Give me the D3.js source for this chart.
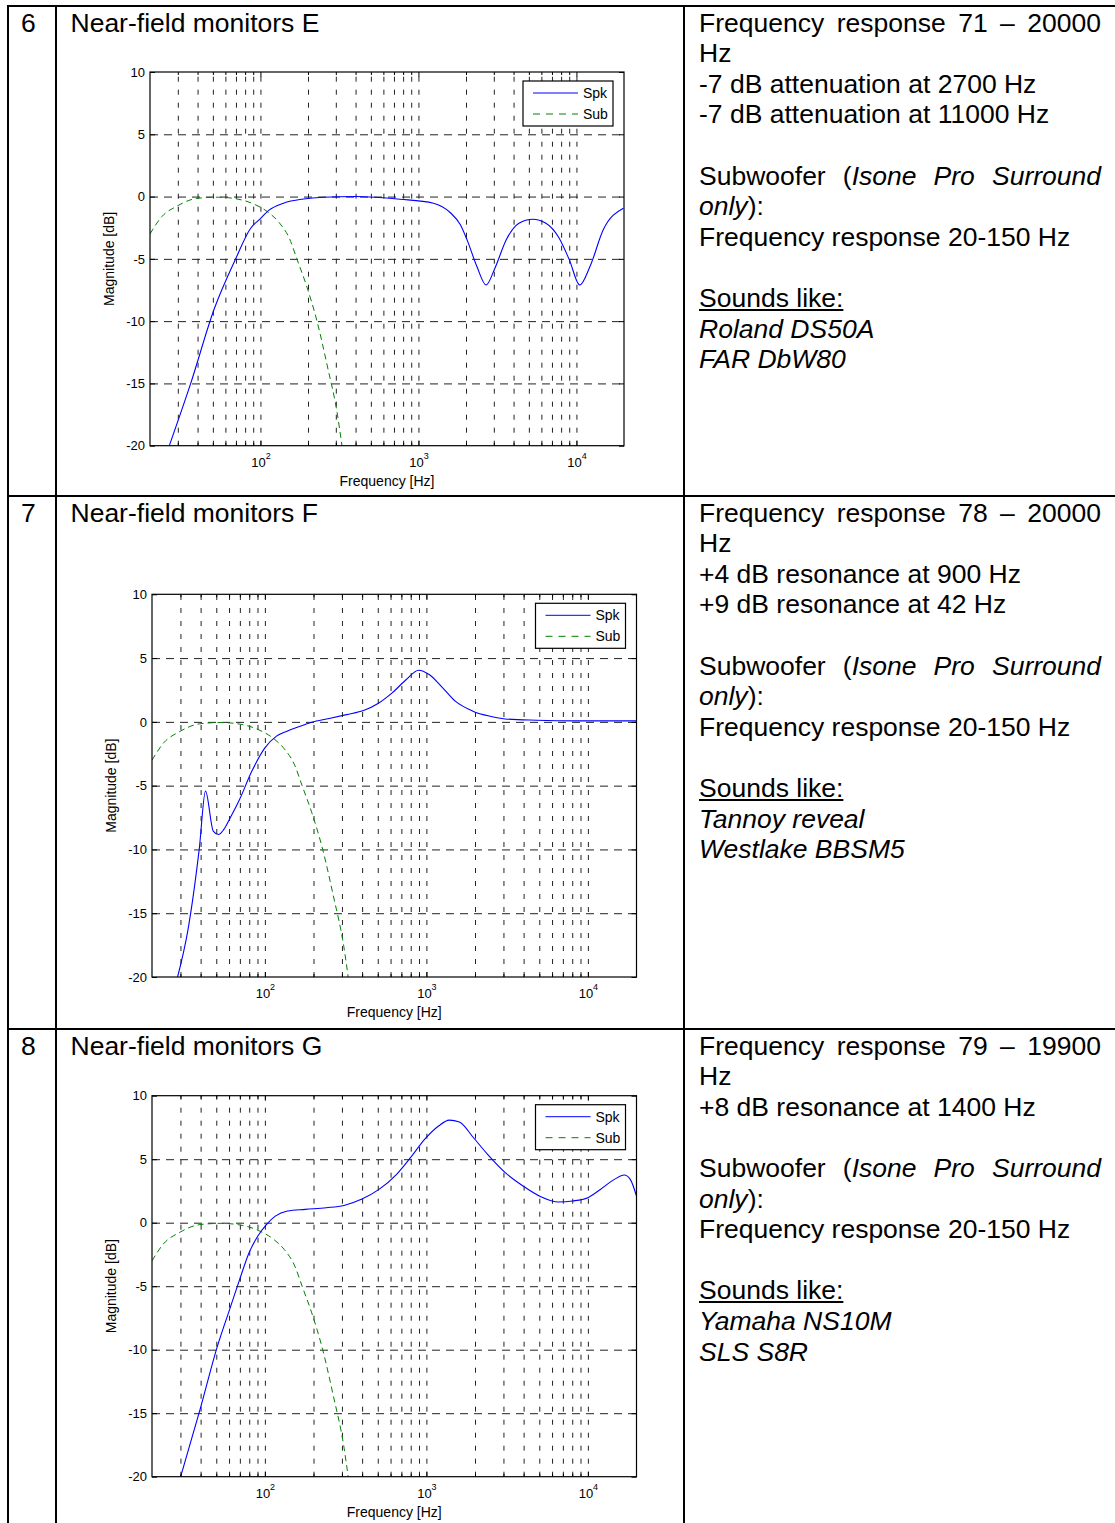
<!DOCTYPE html>
<html>
<head>
<meta charset="utf-8">
<title>Near-field monitors E, F, G</title>
<script src="https://cdn.jsdelivr.net/npm/d3@7"></script>
<style>
    body {
        margin: 0;
        width: 1115px;
        height: 1523px;
        overflow: hidden;
        position: relative;
        background: #fff;
        font-family: "Liberation Sans", Arial, sans-serif;
    }
    #page { position: absolute; left: 0; top: 0; }
    .info-line {
        position: absolute;
        left: 699px;
        width: 402px;
        font-size: 26.5px;
        line-height: 30.6px;
        white-space: nowrap;
        color: #000;
    }
    .info-line.just { white-space: normal; text-align: justify; text-align-last: justify; }
    .cell-text { font-size: 26.5px; fill: #000; }
    .axis text { font-family: "Liberation Sans", Arial, sans-serif; font-size: 13px; fill: #000; }
    .axis path { display: none; }
    .axis line { stroke: #000; }
    .grid path { display: none; }
    .grid line { stroke: #222; stroke-width: 1; }
    .axis-title { font-size: 14px; fill: #000; }
    .legend text { font-size: 14px; fill: #000; }
</style>
</head>
<body>
<svg id="page" width="1115" height="1523"></svg>
<script>
// ---- data ----
const rowNumbers = ['6', '7', '8'];
const rowTitles = ['Near-field monitors E', 'Near-field monitors F', 'Near-field monitors G'];

const yTicks = [-20, -15, -10, -5, 0, 5, 10];
const xMajorTicks = [100, 1000, 10000];
const seriesNames = ['Spk', 'Sub'];

// subwoofer response (same in every chart)
const subHz = [20, 23.8, 29.3, 39.6, 53.5, 68, 90.8, 113, 131.6, 153, 170, 195, 228, 265, 308, 328];
const subDb = [-3.0, -1.6, -0.8, -0.15, -0.05, -0.15, -0.6, -1.3, -2.1, -3.4, -5, -7.1, -10, -13.6, -17.6, -20];

// monitors E
const spkEHz = [26.5, 36.2, 50.9, 69.7, 86.5, 100, 112.8, 140, 187, 250, 400, 764, 1245, 1587, 1843, 2031,
    2345, 2680, 3048, 3591, 4329, 5280, 6410, 7780, 9020, 10500, 12180, 14780, 19800];
const spkEDb = [-20, -15, -9.05, -5, -2.56, -1.77, -1.11, -0.53, -0.19, -0.05, 0, -0.21, -0.53, -1.28, -2.27, -3.48,
    -5.62, -7.1, -5.75, -3.48, -2.14, -1.82, -2.14, -3.34, -5.08, -7.1, -5.62, -2.67, -0.93];

// monitors F
const spkFHz = [28.8, 33.4, 39.2, 42.9, 47.9, 51.6, 55.7, 61.5, 69.7, 83.1, 100, 118, 137, 159, 195, 250, 320,
    412, 502, 614, 751, 895, 1040, 1237, 1510, 1938, 2480, 3070, 4800, 8300, 20000];
const spkFDb = [-20, -16.3, -10, -5.43, -8.56, -8.83, -8.43, -7.44, -6.08, -3.86, -2.04, -1.12, -0.73, -0.42, -0.03,
    0.26, 0.57, 0.91, 1.44, 2.27, 3.32, 4.05, 3.71, 2.79, 1.62, 0.84, 0.44, 0.23, 0.13, 0.08, 0.08];

// monitors G
const spkGHz = [30.1, 39.7, 50.9, 60.6, 70.4, 79.8, 90.5, 102.5, 116, 138, 178, 240, 309, 396, 509, 654, 797, 975,
    1190, 1385, 1600, 1958, 2393, 3080, 3967, 5110, 6580, 8050, 10000, 11950, 14600, 16800, 18300, 20000];
const spkGDb = [-20, -14.7, -9.7, -6.8, -4.33, -2.36, -1.05, -0.13, 0.52, 0.92, 1.05, 1.18, 1.36, 1.84, 2.62, 3.81,
    5.12, 6.56, 7.61, 8.08, 7.93, 6.69, 5.38, 3.94, 2.89, 2.05, 1.63, 1.71, 1.97, 2.62, 3.41, 3.75, 3.41, 2.1];

// right column text, [html, justified]
const infoE = [
    ['Frequency response 71 – 20000', true], ['Hz'],
    ['-7 dB attenuation at 2700 Hz'], ['-7 dB attenuation at 11000 Hz'], [''],
    ['Subwoofer (<i>Isone Pro Surround</i>', true], ['<i>only</i>):'], ['Frequency response 20-150 Hz'], [''],
    ['<u>Sounds like:</u>'], ['<i>Roland DS50A</i>'], ['<i>FAR DbW80</i>']
];
const infoF = [
    ['Frequency response 78 – 20000', true], ['Hz'],
    ['+4 dB resonance at 900 Hz'], ['+9 dB resonance at 42 Hz'], [''],
    ['Subwoofer (<i>Isone Pro Surround</i>', true], ['<i>only</i>):'], ['Frequency response 20-150 Hz'], [''],
    ['<u>Sounds like:</u>'], ['<i>Tannoy reveal</i>'], ['<i>Westlake BBSM5</i>']
];
const infoG = [
    ['Frequency response 79 – 19900', true], ['Hz'],
    ['+8 dB resonance at 1400 Hz'], [''],
    ['Subwoofer (<i>Isone Pro Surround</i>', true], ['<i>only</i>):'], ['Frequency response 20-150 Hz'], [''],
    ['<u>Sounds like:</u>'], ['<i>Yamaha NS10M</i>'], ['<i>SLS S8R</i>']
];


class ResponseChart {

    constructor(_config, _spk, _sub) {
        this.config = {
            svg: _config.svg,
            id: _config.id,
            left: _config.left,
            right: _config.right,
            top: _config.top,
            bottom: _config.bottom
        }
        this.spk = _spk;
        this.sub = _sub;
        this.initVis();
    }

    initVis() {
        let vis = this;

        vis.width = vis.config.right - vis.config.left;
        vis.height = vis.config.bottom - vis.config.top;

        vis.xScale = d3.scaleLog()
            .domain([20, 20000])
            .range([0, vis.width]);

        vis.yScale = d3.scaleLinear()
            .domain([-20, 10])
            .range([vis.height, 0]);

        vis.chart = vis.config.svg.append('g')
            .attr('transform', `translate(${vis.config.left},${vis.config.top})`);

        vis.chart.append('clipPath')
            .attr('id', 'clip-' + vis.config.id)
            .append('rect')
            .attr('width', vis.width)
            .attr('height', vis.height);

        vis.renderVis();
    }

    renderVis() {
        let vis = this;

        // minor + major log grid, skipping the box edges
        let gridHz = vis.xScale.ticks().filter(d => d > 20 && d < 20000);
        let gridDb = yTicks.filter(d => d > -20 && d < 10);

        vis.chart.append('g')
            .attr('class', 'grid')
            .attr('transform', `translate(0,${vis.height})`)
            .call(d3.axisBottom(vis.xScale).tickValues(gridHz).tickSize(-vis.height).tickFormat(''))
            .selectAll('line')
            .attr('stroke-dasharray', '5,8');

        vis.chart.append('g')
            .attr('class', 'grid')
            .call(d3.axisLeft(vis.yScale).tickValues(gridDb).tickSize(-vis.width).tickFormat(''))
            .selectAll('line')
            .attr('stroke-dasharray', '8,6');

        // curves
        let line = d3.line()
            .x(d => vis.xScale(d[0]))
            .y(d => vis.yScale(d[1]))
            .curve(d3.curveMonotoneX);

        let curves = vis.chart.append('g')
            .attr('clip-path', `url(#clip-${vis.config.id})`);

        curves.append('path')
            .datum(vis.sub)
            .attr('fill', 'none')
            .attr('stroke', '#008000')
            .attr('stroke-width', 1)
            .attr('stroke-dasharray', '6,4')
            .attr('d', line);

        curves.append('path')
            .datum(vis.spk)
            .attr('fill', 'none')
            .attr('stroke', '#0000ff')
            .attr('stroke-width', 1.1)
            .attr('d', line);

        // inner ticks on all four sides
        let minorHz = gridHz.filter(d => xMajorTicks.indexOf(d) < 0);
        [['axisBottom', vis.height], ['axisTop', 0]].forEach(([fn, y]) => {
            vis.chart.append('g')
                .attr('class', 'axis')
                .attr('transform', `translate(0,${y})`)
                .call(d3[fn](vis.xScale).tickValues(minorHz).tickSizeInner(-3).tickSizeOuter(0).tickFormat(''));
        });
        vis.chart.append('g')
            .attr('class', 'axis')
            .call(d3.axisTop(vis.xScale).tickValues(xMajorTicks).tickSizeInner(-5).tickSizeOuter(0).tickFormat(''));
        vis.chart.append('g')
            .attr('class', 'axis')
            .attr('transform', `translate(${vis.width},0)`)
            .call(d3.axisRight(vis.yScale).tickValues(yTicks).tickSizeInner(-5).tickSizeOuter(0).tickFormat(''));

        // plain hyphen minus like the MATLAB labels
        vis.chart.append('g')
            .attr('class', 'axis')
            .call(d3.axisLeft(vis.yScale).tickValues(yTicks).tickSizeInner(-5).tickSizeOuter(0).tickPadding(5)
                .tickFormat(d => String(d)));

        let xAxisG = vis.chart.append('g')
            .attr('class', 'axis')
            .attr('transform', `translate(0,${vis.height})`)
            .call(d3.axisBottom(vis.xScale).tickValues(xMajorTicks).tickSizeInner(-5).tickSizeOuter(0).tickPadding(12));

        // 10^n labels
        xAxisG.selectAll('.tick text')
            .text('10')
            .append('tspan')
            .attr('dy', -8)
            .style('font-size', '9px')
            .text(d => Math.round(Math.log10(d)));

        // box
        vis.chart.append('rect')
            .attr('width', vis.width)
            .attr('height', vis.height)
            .attr('fill', 'none')
            .attr('stroke', '#000')
            .attr('stroke-width', 1.2);

        vis.chart.append('text')
            .attr('class', 'axis-title')
            .attr('x', vis.width / 2)
            .attr('y', vis.height + 40)
            .attr('text-anchor', 'middle')
            .text('Frequency [Hz]');

        vis.chart.append('text')
            .attr('class', 'axis-title')
            .attr('transform', 'rotate(-90)')
            .attr('x', -vis.height / 2)
            .attr('y', -36)
            .attr('text-anchor', 'middle')
            .text('Magnitude [dB]');

        // legend
        let legend = vis.chart.append('g')
            .attr('class', 'legend')
            .attr('transform', `translate(${vis.width - 101},9)`);

        legend.append('rect')
            .attr('width', 90)
            .attr('height', 45)
            .attr('fill', '#fff')
            .attr('stroke', '#000')
            .attr('stroke-width', 1.2);

        let items = legend.selectAll('.item')
            .data(seriesNames)
            .enter()
            .append('g')
            .attr('class', 'item')
            .attr('transform', (d, i) => `translate(0,${12 + i * 21})`);

        items.append('line')
            .attr('x1', 10)
            .attr('x2', 55)
            .attr('stroke', (d, i) => i === 0 ? '#0000ff' : '#008000')
            .attr('stroke-width', 1)
            .attr('stroke-dasharray', (d, i) => i === 0 ? null : '7,6');

        items.append('text')
            .attr('x', 60)
            .attr('dy', '0.36em')
            .text(d => d);
    }
}


// ---- page / table ----
const svg = d3.select('#page');
const rowTops = [6, 496, 1029];

svg.append('g')
    .selectAll('line')
    .data([
        [7, 6, 1115, 6], [8, 5, 8, 1523], [56, 6, 56, 1523], [684, 6, 684, 1523],
        [8, rowTops[1], 1115, rowTops[1]], [8, rowTops[2], 1115, rowTops[2]]
    ])
    .enter()
    .append('line')
    .attr('x1', d => d[0]).attr('y1', d => d[1])
    .attr('x2', d => d[2]).attr('y2', d => d[3])
    .attr('stroke', '#000')
    .attr('stroke-width', 2);

svg.selectAll('.row-number')
    .data(rowNumbers)
    .enter()
    .append('text')
    .attr('class', 'cell-text row-number')
    .attr('x', 21)
    .attr('y', (d, i) => rowTops[i] + 26)
    .text(d => d);

svg.selectAll('.row-title')
    .data(rowTitles)
    .enter()
    .append('text')
    .attr('class', 'cell-text row-title')
    .attr('x', 70.5)
    .attr('y', (d, i) => rowTops[i] + 26)
    .text(d => d);

[infoE, infoF, infoG].forEach((lines, r) => {
    d3.select('body').selectAll(null)
        .data(lines)
        .enter()
        .append('div')
        .attr('class', d => d[1] ? 'info-line just' : 'info-line')
        .style('top', (d, i) => (rowTops[r] + 1.5 + i * 30.6) + 'px')
        .html(d => d[0] || '&nbsp;');
});

new ResponseChart({svg: svg, id: 'e', left: 150, right: 624, top: 72, bottom: 445.7},
    d3.zip(spkEHz, spkEDb), d3.zip(subHz, subDb));
new ResponseChart({svg: svg, id: 'f', left: 152, right: 636.5, top: 594.3, bottom: 977},
    d3.zip(spkFHz, spkFDb), d3.zip(subHz, subDb));
new ResponseChart({svg: svg, id: 'g', left: 152, right: 636.5, top: 1095.7, bottom: 1476.7},
    d3.zip(spkGHz, spkGDb), d3.zip(subHz, subDb));
</script>
</body>
</html>
